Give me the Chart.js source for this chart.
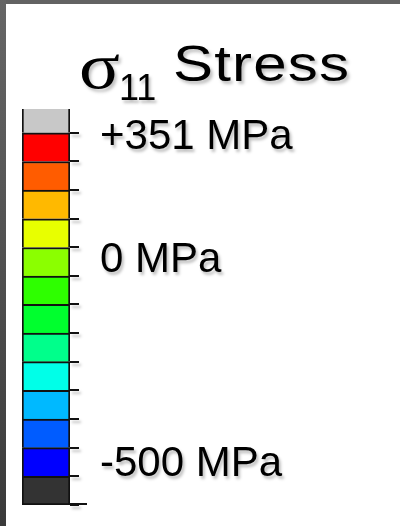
<!DOCTYPE html>
<html>
<head>
<meta charset="utf-8">
<script src="https://cdn.jsdelivr.net/npm/chart.js@4"></script>
<style>
  html, body { margin: 0; padding: 0; background: #fff; }
  #wrap { position: relative; width: 400px; height: 526px; overflow: hidden; background: #fff; }
  #frameTop { position: absolute; left: 0; top: 0; width: 400px; height: 4px; background: #636363; }
  #frameLeft { position: absolute; left: 0; top: 0; width: 6px; height: 526px;
    background: linear-gradient(#666666, #3a3a3a); }
  canvas { position: absolute; left: 0; top: 0; }
  .ttl { position: absolute; color: #000; white-space: nowrap; line-height: 1;
    text-shadow: 2px 3px 3px rgba(0,0,0,0.25); }
  #sig { left: 79px; top: 33px; font-family: "Liberation Serif", serif; font-size: 66px;
    transform: scaleX(1.15); transform-origin: left top; }
  #sub { left: 119px; top: 70px; font-family: "Liberation Sans", Arial, sans-serif; font-size: 36px; }
  #word { left: 173px; top: 39px; font-family: "Liberation Sans", Arial, sans-serif; font-size: 50px;
    letter-spacing: 1px; transform: scaleX(1.2); transform-origin: left top; }
</style>
</head>
<body>
<div id="wrap">
  <canvas id="bar" width="400" height="526"></canvas>
  <div id="frameTop"></div>
  <div id="frameLeft"></div>
  <span class="ttl" id="sig">σ</span><span class="ttl" id="sub">11</span><span class="ttl" id="word">Stress</span>
</div>
<script>
  // colour cells, bottom to top (under-range grey, 12 bands, over-range grey)
  const cellColors = [
    '#333333',
    '#0000ff', '#005cff', '#00b9ff', '#00ffe8', '#00ff8b', '#00ff2e',
    '#2eff00', '#8bff00', '#e8ff00', '#ffb900', '#ff5c00', '#ff0000',
    '#c8c8c8'
  ];
  // cell edges in MPa
  const cellEdges = [-571, -500, -429, -358, -287, -216, -145, -74, -4, 67, 138, 209, 280, 351, 410];

  // text labels and where they sit on the bar (MPa)
  const tickLabels = ['+351 MPa', '0 MPa', '-500 MPa'];
  const labelValues = [339, 36, -470];

  const last = cellColors.length - 1;

  const datasets = cellColors.map((c, i) => ({
    data: [[cellEdges[i], cellEdges[i + 1]]],
    backgroundColor: c,
    borderColor: '#111',
    borderSkipped: false,
    borderWidth: i === 0 ? 2
      : i === last ? { left: 2, right: 2, top: 0, bottom: 0 }
      : { left: 2, right: 2, top: 2, bottom: 0 },
    grouped: false,
    barPercentage: 1,
    categoryPercentage: 1
  }));

  // label shadow like the slide text, only for the axes
  const textShadow = {
    id: 'textShadow',
    beforeDraw(chart) {
      const ctx = chart.ctx;
      ctx.shadowColor = 'rgba(0,0,0,0.25)';
      ctx.shadowBlur = 3;
      ctx.shadowOffsetX = 2;
      ctx.shadowOffsetY = 3;
    },
    beforeDatasetsDraw(chart) {
      const ctx = chart.ctx;
      ctx.shadowColor = 'rgba(0,0,0,0)';
      ctx.shadowBlur = 0;
      ctx.shadowOffsetX = 0;
      ctx.shadowOffsetY = 0;
    }
  };

  // the bottom tick runs out further than the others
  const longEndTick = {
    id: 'longEndTick',
    afterDraw(chart) {
      const s = chart.scales.y;
      const y = s.getPixelForValue(cellEdges[0]);
      const ctx = chart.ctx;
      ctx.save();
      ctx.strokeStyle = '#111';
      ctx.lineWidth = 2;
      ctx.beginPath();
      ctx.moveTo(s.left - 2, y - 1);
      ctx.lineTo(s.left + 17, y - 1);
      ctx.stroke();
      ctx.restore();
    }
  };

  // no extra room for the label text at the ends of the bar
  const noPad = s => { s.paddingTop = 0; s.paddingBottom = 0; };

  new Chart(document.getElementById('bar'), {
    type: 'bar',
    data: { labels: ['σ11'], datasets: datasets },
    options: {
      responsive: false,
      animation: false,
      layout: { padding: { top: 109, bottom: 21, left: 22, right: 0 } },
      plugins: { legend: { display: false }, tooltip: { enabled: false } },
      scales: {
        x: { display: false },
        y: {
          position: 'right',
          weight: 0,
          min: cellEdges[0],
          max: cellEdges[last + 1],
          afterBuildTicks: s => { s.ticks = cellEdges.slice(0, -1).map(v => ({ value: v })); },
          afterFit: s => { s.width = 8; noPad(s); },
          ticks: { display: false },
          border: { display: false },
          grid: { drawOnChartArea: false, drawTicks: true, tickLength: 9, color: '#111', lineWidth: 2 }
        },
        yLab: {
          type: 'linear',
          position: 'right',
          weight: 1,
          min: cellEdges[0],
          max: cellEdges[last + 1],
          afterBuildTicks: s => { s.ticks = labelValues.map(v => ({ value: v })); },
          afterFit: s => { s.width = 322; noPad(s); },
          border: { display: false },
          grid: { display: false, drawTicks: false },
          ticks: {
            padding: 22,
            color: '#000',
            font: { family: '"Liberation Sans", Arial, sans-serif', size: 42 },
            callback: (v, i) => tickLabels[i]
          }
        }
      }
    },
    plugins: [textShadow, longEndTick]
  });
</script>
</body>
</html>
